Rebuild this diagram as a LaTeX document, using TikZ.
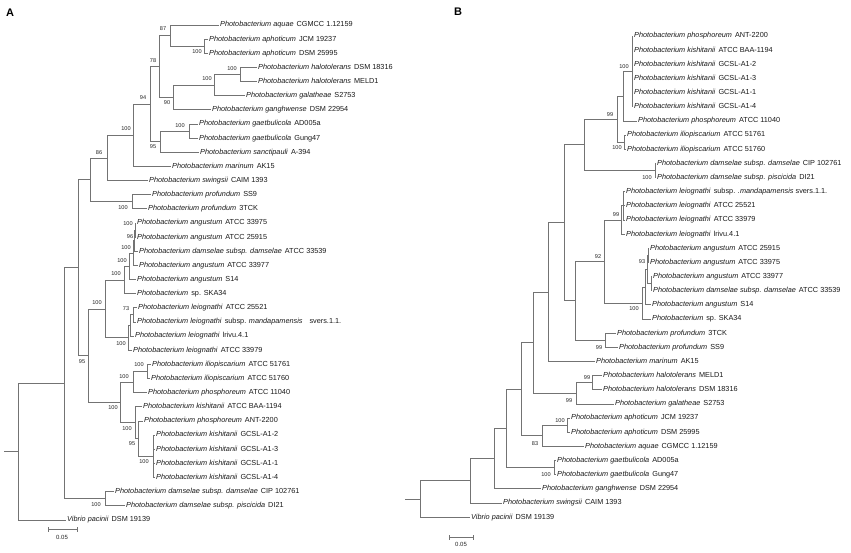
\documentclass[tikz,border=0pt]{standalone}
\usepackage{fontspec}
\setmainfont{Liberation Sans}
\newcommand\tx[2]{\textit{#1}\hspace{3pt}#2}
\begin{document}
\begin{tikzpicture}[x=1pt,y=-1pt,
  br/.style={draw=black!55, line width=0.8pt},
  taxon/.style={anchor=west, inner xsep=1.5pt, inner ysep=0pt, font=\fontsize{7.3}{8}\selectfont, text height=5.3pt, text depth=1.5pt, text=black!90},
  bsv/.style={inner sep=0pt, font=\fontsize{5.6}{6}\selectfont, text=black!85},
  panel/.style={inner sep=0pt, font=\fontsize{11}{12}\selectfont\bfseries},
  scl/.style={inner sep=0pt, font=\fontsize{6}{7}\selectfont, text=black!85}]
\fill[white] (0,0) rectangle (851,552);
\useasboundingbox (0,0) rectangle (851,552);
\node[panel] (pA) at (10,13) {A};
\node[panel] (pB) at (458,12) {B};
% ================= Panel A =================
\coordinate (aR0) at (4,451.56);
\coordinate (aR) at (18,451.56);
\coordinate (aN64) at (64,383.22);
\coordinate (aN78) at (78,267.74);
\coordinate (aN90) at (90,179.83);
\coordinate (aN107) at (107,157.90);
\coordinate (aN133) at (133,135.25);
\coordinate (aN150) at (150,104.10);
\coordinate (aN159) at (159,66.54);
\coordinate (aN170) at (170,35.61);
\coordinate (aAph) at (204,46.21);
\coordinate (aN173) at (173,97.47);
\coordinate (aN214) at (214,85.10);
\coordinate (aHalo) at (240,74.49);
\coordinate (aN160) at (160,141.66);
\coordinate (aGaet) at (189,131.05);
\coordinate (aProf) at (132,201.75);
\coordinate (aN88) at (88,355.64);
\coordinate (aN105) at (105,308.91);
\coordinate (aN124) at (124,279.96);
\coordinate (aN130) at (129.5,266.27);
\coordinate (aN133b) at (133,253.01);
\coordinate (aN96) at (134,240.64);
\coordinate (aN100t) at (135,230.03);
\coordinate (aLei100) at (128,337.85);
\coordinate (aLeim) at (130.5,325.48);
\coordinate (aLei73) at (133,314.87);
\coordinate (aN120) at (120,402.37);
\coordinate (aN133c) at (133,382.04);
\coordinate (aIlio) at (147,371.43);
\coordinate (aKis) at (135,422.69);
\coordinate (aN95k) at (138,438.60);
\coordinate (aGCSL) at (153,456.27);
\coordinate (aDam) at (105,498.69);
\node[taxon] (aL1) at (218.5,25.00) {\tx{Photobacterium aquae}{CGMCC 1.12159}};
\node[taxon] (aL2) at (207.5,39.14) {\tx{Photobacterium aphoticum}{JCM 19237}};
\node[taxon] (aL3) at (207.5,53.28) {\tx{Photobacterium aphoticum}{DSM 25995}};
\node[taxon] (aL4) at (256.5,67.42) {\tx{Photobacterium halotolerans}{DSM 18316}};
\node[taxon] (aL5) at (256.5,81.56) {\tx{Photobacterium halotolerans}{MELD1}};
\node[taxon] (aL6) at (244.5,95.70) {\tx{Photobacterium galatheae}{S2753}};
\node[taxon] (aL7) at (210.5,109.84) {\tx{Photobacterium ganghwense}{DSM 22954}};
\node[taxon] (aL8) at (197.5,123.98) {\tx{Photobacterium gaetbulicola}{AD005a}};
\node[taxon] (aL9) at (197.5,138.12) {\tx{Photobacterium gaetbulicola}{Gung47}};
\node[taxon] (aL10) at (198.5,152.26) {\tx{Photobacterium sanctipauli}{A-394}};
\node[taxon] (aL11) at (170.5,166.40) {\tx{Photobacterium marinum}{AK15}};
\node[taxon] (aL12) at (147.5,180.54) {\tx{Photobacterium swingsii}{CAIM 1393}};
\node[taxon] (aL13) at (150.5,194.68) {\tx{Photobacterium profundum}{SS9}};
\node[taxon] (aL14) at (146.5,208.82) {\tx{Photobacterium profundum}{3TCK}};
\node[taxon] (aL15) at (135.5,222.96) {\tx{Photobacterium angustum}{ATCC 33975}};
\node[taxon] (aL16) at (135.5,237.10) {\tx{Photobacterium angustum}{ATCC 25915}};
\node[taxon] (aL17) at (137.5,251.24) {\tx{Photobacterium damselae subsp. damselae}{ATCC 33539}};
\node[taxon] (aL18) at (137.5,265.38) {\tx{Photobacterium angustum}{ATCC 33977}};
\node[taxon] (aL19) at (135.5,279.52) {\tx{Photobacterium angustum}{S14}};
\node[taxon] (aL20) at (135.5,293.66) {\tx{Photobacterium}{sp. SKA34}};
\node[taxon] (aL21) at (136.5,307.80) {\tx{Photobacterium leiognathi}{ATCC 25521}};
\node[taxon] (aL22) at (135.5,321.94) {\tx{Photobacterium leiognathi}{subsp. \textit{mandapamensis}\hspace{7pt}svers.1.1.}};
\node[taxon] (aL23) at (133.5,336.08) {\tx{Photobacterium leiognathi}{lrivu.4.1}};
\node[taxon] (aL24) at (131.5,350.22) {\tx{Photobacterium leiognathi}{ATCC 33979}};
\node[taxon] (aL25) at (150.5,364.36) {\tx{Photobacterium iliopiscarium}{ATCC 51761}};
\node[taxon] (aL26) at (149.5,378.50) {\tx{Photobacterium iliopiscarium}{ATCC 51760}};
\node[taxon] (aL27) at (146.5,392.64) {\tx{Photobacterium phosphoreum}{ATCC 11040}};
\node[taxon] (aL28) at (141.5,406.78) {\tx{Photobacterium kishitanii}{ATCC BAA-1194}};
\node[taxon] (aL29) at (142.5,420.92) {\tx{Photobacterium phosphoreum}{ANT-2200}};
\node[taxon] (aL30) at (154.5,435.06) {\tx{Photobacterium kishitanii}{GCSL-A1-2}};
\node[taxon] (aL31) at (154.5,449.20) {\tx{Photobacterium kishitanii}{GCSL-A1-3}};
\node[taxon] (aL32) at (154.5,463.34) {\tx{Photobacterium kishitanii}{GCSL-A1-1}};
\node[taxon] (aL33) at (154.5,477.48) {\tx{Photobacterium kishitanii}{GCSL-A1-4}};
\node[taxon] (aL34) at (113.5,491.62) {\tx{Photobacterium damselae subsp. damselae}{CIP 102761}};
\node[taxon] (aL35) at (124.5,505.76) {\tx{Photobacterium damselae subsp. piscicida}{DI21}};
\node[taxon] (aL36) at (65.5,519.90) {\tx{Vibrio pacinii}{DSM 19139}};
\draw[br] (aR0) -- (aR);
\draw[br] (aR) |- (aN64); \draw[br] (aR) |- (aL36.west);
\draw[br] (aN64) |- (aN78); \draw[br] (aN64) |- (aDam);
\draw[br] (aN78) |- (aN90); \draw[br] (aN78) |- (aN88);
\draw[br] (aN90) |- (aN107); \draw[br] (aN90) |- (aProf);
\draw[br] (aN107) |- (aN133); \draw[br] (aN107) |- (aL12.west);
\draw[br] (aN133) |- (aN150); \draw[br] (aN133) |- (aL11.west);
\draw[br] (aN150) |- (aN159); \draw[br] (aN150) |- (aN160);
\draw[br] (aN159) |- (aN170); \draw[br] (aN159) |- (aN173);
\draw[br] (aN170) |- (aL1.west); \draw[br] (aN170) |- (aAph);
\draw[br] (aAph) |- (aL2.west); \draw[br] (aAph) |- (aL3.west);
\draw[br] (aN173) |- (aN214); \draw[br] (aN173) |- (aL7.west);
\draw[br] (aN214) |- (aHalo); \draw[br] (aN214) |- (aL6.west);
\draw[br] (aHalo) |- (aL4.west); \draw[br] (aHalo) |- (aL5.west);
\draw[br] (aN160) |- (aGaet); \draw[br] (aN160) |- (aL10.west);
\draw[br] (aGaet) |- (aL8.west); \draw[br] (aGaet) |- (aL9.west);
\draw[br] (aProf) |- (aL13.west); \draw[br] (aProf) |- (aL14.west);
\draw[br] (aN88) |- (aN105); \draw[br] (aN88) |- (aN120);
\draw[br] (aN105) |- (aN124); \draw[br] (aN105) |- (aLei100);
\draw[br] (aN124) |- (aN130); \draw[br] (aN124) |- (aL20.west);
\draw[br] (aN130) |- (aN133b); \draw[br] (aN130) |- (aL19.west);
\draw[br] (aN133b) |- (aN96); \draw[br] (aN133b) |- (aL18.west);
\draw[br] (aN96) |- (aN100t); \draw[br] (aN96) |- (aL17.west);
\draw[br] (aN100t) |- (aL15.west); \draw[br] (aN100t) |- (aL16.west);
\draw[br] (aLei100) |- (aLeim); \draw[br] (aLei100) |- (aL24.west);
\draw[br] (aLeim) |- (aLei73); \draw[br] (aLeim) |- (aL23.west);
\draw[br] (aLei73) |- (aL21.west); \draw[br] (aLei73) |- (aL22.west);
\draw[br] (aN120) |- (aN133c); \draw[br] (aN120) |- (aKis);
\draw[br] (aN133c) |- (aIlio); \draw[br] (aN133c) |- (aL27.west);
\draw[br] (aIlio) |- (aL25.west); \draw[br] (aIlio) |- (aL26.west);
\draw[br] (aKis) |- (aL28.west); \draw[br] (aKis) |- (aN95k);
\draw[br] (aN95k) |- (aL29.west); \draw[br] (aN95k) |- (aGCSL);
\draw[br] (aGCSL) |- (aL30.west); \draw[br] (aGCSL) |- (aL31.west);
\draw[br] (aGCSL) |- (aL32.west); \draw[br] (aGCSL) |- (aL33.west);
\draw[br] (aDam) |- (aL34.west); \draw[br] (aDam) |- (aL35.west);
% bootstrap A
\node[bsv] (ab1) at (163,29) {87};
\node[bsv] (ab2) at (197,52) {100};
\node[bsv] (ab3) at (153,61) {78};
\node[bsv] (ab4) at (232,69) {100};
\node[bsv] (ab5) at (207,79) {100};
\node[bsv] (ab6) at (167,103) {90};
\node[bsv] (ab7) at (143,98) {94};
\node[bsv] (ab8) at (180,126) {100};
\node[bsv] (ab9) at (126,129) {100};
\node[bsv] (ab10) at (153,147) {95};
\node[bsv] (ab11) at (99,153) {86};
\node[bsv] (ab12) at (123,208) {100};
\node[bsv] (ab13) at (128,224) {100};
\node[bsv] (ab14) at (130,237) {96};
\node[bsv] (ab15) at (126,248) {100};
\node[bsv] (ab16) at (122,261) {100};
\node[bsv] (ab17) at (116,274) {100};
\node[bsv] (ab18) at (97,303) {100};
\node[bsv] (ab19) at (126,309) {73};
\node[bsv] (ab20) at (121,344) {100};
\node[bsv] (ab21) at (82,362) {95};
\node[bsv] (ab22) at (139,365) {100};
\node[bsv] (ab23) at (124,377) {100};
\node[bsv] (ab24) at (113,408) {100};
\node[bsv] (ab25) at (127,429) {100};
\node[bsv] (ab26) at (132,444) {95};
\node[bsv] (ab27) at (144,462) {100};
\node[bsv] (ab28) at (96,505) {100};
% scale A
\coordinate (asc1) at (48,529);
\coordinate (asc2) at (77,529);
\draw[br] (asc1) -- (asc2);
\draw[br] ([yshift=-2.5pt]asc1) -- ([yshift=2.5pt]asc1);
\draw[br] ([yshift=-2.5pt]asc2) -- ([yshift=2.5pt]asc2);
\node[scl] (ascl) at (62,537) {0.05};
% ================= Panel B =================
\coordinate (bR0) at (405,498.94);
\coordinate (bR) at (420,498.94);
\coordinate (bP470) at (470,480.78);
\coordinate (bP494) at (494,458.61);
\coordinate (bP506) at (506,428.41);
\coordinate (bGaet) at (554,467.58);
\coordinate (bP521) at (521,389.23);
\coordinate (bN83) at (542,435.74);
\coordinate (bAph) at (567,425.13);
\coordinate (bP533) at (533,342.72);
\coordinate (bH2) at (576,393.29);
\coordinate (bH1) at (592,382.68);
\coordinate (bP548) at (548,292.14);
\coordinate (bP564) at (564,222.83);
\coordinate (bP575) at (575,300.87);
\coordinate (bProf) at (605,340.23);
\coordinate (bN92) at (604,261.52);
\coordinate (bL99) at (621,219.95);
\coordinate (bLeiIn) at (623,205.80);
\coordinate (bA100) at (642,303.08);
\coordinate (bAX) at (645,287.16);
\coordinate (bA93) at (647,269.48);
\coordinate (bA1) at (648,255.33);
\coordinate (bA2) at (651,283.63);
\coordinate (bP584) at (584,144.78);
\coordinate (bDam) at (655,170.43);
\coordinate (bP617) at (617,119.13);
\coordinate (bIl) at (624,142.13);
\coordinate (bP623) at (623,96.14);
\coordinate (bPG) at (632,71.38);
\node[taxon] (bL1) at (632.5,36.00) {\tx{Photobacterium phosphoreum}{ANT-2200}};
\node[taxon] (bL2) at (632.5,50.15) {\tx{Photobacterium kishitanii}{ATCC BAA-1194}};
\node[taxon] (bL3) at (632.5,64.30) {\tx{Photobacterium kishitanii}{GCSL-A1-2}};
\node[taxon] (bL4) at (632.5,78.45) {\tx{Photobacterium kishitanii}{GCSL-A1-3}};
\node[taxon] (bL5) at (632.5,92.60) {\tx{Photobacterium kishitanii}{GCSL-A1-1}};
\node[taxon] (bL6) at (632.5,106.75) {\tx{Photobacterium kishitanii}{GCSL-A1-4}};
\node[taxon] (bL7) at (636.5,120.90) {\tx{Photobacterium phosphoreum}{ATCC 11040}};
\node[taxon] (bL8) at (625.5,135.05) {\tx{Photobacterium iliopiscarium}{ATCC 51761}};
\node[taxon] (bL9) at (625.5,149.20) {\tx{Photobacterium iliopiscarium}{ATCC 51760}};
\node[taxon] (bL10) at (655.5,163.35) {\tx{Photobacterium damselae subsp. damselae}{CIP 102761}};
\node[taxon] (bL11) at (655.5,177.50) {\tx{Photobacterium damselae subsp. piscicida}{DI21}};
\node[taxon] (bL12) at (624.5,191.65) {\tx{Photobacterium leiognathi}{subsp. \textit{.mandapamensis} svers.1.1.}};
\node[taxon] (bL13) at (624.5,205.80) {\tx{Photobacterium leiognathi}{ATCC 25521}};
\node[taxon] (bL14) at (624.5,219.95) {\tx{Photobacterium leiognathi}{ATCC 33979}};
\node[taxon] (bL15) at (624.5,234.10) {\tx{Photobacterium leiognathi}{lrivu.4.1}};
\node[taxon] (bL16) at (648.5,248.25) {\tx{Photobacterium angustum}{ATCC 25915}};
\node[taxon] (bL17) at (648.5,262.40) {\tx{Photobacterium angustum}{ATCC 33975}};
\node[taxon] (bL18) at (651.5,276.55) {\tx{Photobacterium angustum}{ATCC 33977}};
\node[taxon] (bL19) at (651.5,290.70) {\tx{Photobacterium damselae subsp. damselae}{ATCC 33539}};
\node[taxon] (bL20) at (650.5,304.85) {\tx{Photobacterium angustum}{S14}};
\node[taxon] (bL21) at (650.5,319.00) {\tx{Photobacterium}{sp. SKA34}};
\node[taxon] (bL22) at (615.5,333.15) {\tx{Photobacterium profundum}{3TCK}};
\node[taxon] (bL23) at (617.5,347.30) {\tx{Photobacterium profundum}{SS9}};
\node[taxon] (bL24) at (594.5,361.45) {\tx{Photobacterium marinum}{AK15}};
\node[taxon] (bL25) at (601.5,375.60) {\tx{Photobacterium halotolerans}{MELD1}};
\node[taxon] (bL26) at (601.5,389.75) {\tx{Photobacterium halotolerans}{DSM 18316}};
\node[taxon] (bL27) at (613.5,403.90) {\tx{Photobacterium galatheae}{S2753}};
\node[taxon] (bL28) at (569.5,418.05) {\tx{Photobacterium aphoticum}{JCM 19237}};
\node[taxon] (bL29) at (569.5,432.20) {\tx{Photobacterium aphoticum}{DSM 25995}};
\node[taxon] (bL30) at (583.5,446.35) {\tx{Photobacterium aquae}{CGMCC 1.12159}};
\node[taxon] (bL31) at (555.5,460.50) {\tx{Photobacterium gaetbulicola}{AD005a}};
\node[taxon] (bL32) at (555.5,474.65) {\tx{Photobacterium gaetbulicola}{Gung47}};
\node[taxon] (bL33) at (540.5,488.80) {\tx{Photobacterium ganghwense}{DSM 22954}};
\node[taxon] (bL34) at (501.5,502.95) {\tx{Photobacterium swingsii}{CAIM 1393}};
\node[taxon] (bL35) at (469.5,517.10) {\tx{Vibrio pacinii}{DSM 19139}};
\draw[br] (bR0) -- (bR);
\draw[br] (bR) |- (bP470); \draw[br] (bR) |- (bL35.west);
\draw[br] (bP470) |- (bP494); \draw[br] (bP470) |- (bL34.west);
\draw[br] (bP494) |- (bP506); \draw[br] (bP494) |- (bL33.west);
\draw[br] (bP506) |- (bP521); \draw[br] (bP506) |- (bGaet);
\draw[br] (bGaet) |- (bL31.west); \draw[br] (bGaet) |- (bL32.west);
\draw[br] (bP521) |- (bP533); \draw[br] (bP521) |- (bN83);
\draw[br] (bN83) |- (bAph); \draw[br] (bN83) |- (bL30.west);
\draw[br] (bAph) |- (bL28.west); \draw[br] (bAph) |- (bL29.west);
\draw[br] (bP533) |- (bP548); \draw[br] (bP533) |- (bH2);
\draw[br] (bH2) |- (bH1); \draw[br] (bH2) |- (bL27.west);
\draw[br] (bH1) |- (bL25.west); \draw[br] (bH1) |- (bL26.west);
\draw[br] (bP548) |- (bP564); \draw[br] (bP548) |- (bL24.west);
\draw[br] (bP564) |- (bP584); \draw[br] (bP564) |- (bP575);
\draw[br] (bP575) |- (bN92); \draw[br] (bP575) |- (bProf);
\draw[br] (bProf) |- (bL22.west); \draw[br] (bProf) |- (bL23.west);
\draw[br] (bN92) |- (bL99); \draw[br] (bN92) |- (bA100);
\draw[br] (bL99) |- (bLeiIn); \draw[br] (bL99) |- (bL15.west);
\draw[br] (bLeiIn) |- (bL12.west); \draw[br] (bLeiIn) |- (bL13.west); \draw[br] (bLeiIn) |- (bL14.west);
\draw[br] (bA100) |- (bAX); \draw[br] (bA100) |- (bL21.west);
\draw[br] (bAX) |- (bA93); \draw[br] (bAX) |- (bL20.west);
\draw[br] (bA93) |- (bA1); \draw[br] (bA93) |- (bA2);
\draw[br] (bA1) |- (bL16.west); \draw[br] (bA1) |- (bL17.west);
\draw[br] (bA2) |- (bL18.west); \draw[br] (bA2) |- (bL19.west);
\draw[br] (bP584) |- (bP617); \draw[br] (bP584) |- (bDam);
\draw[br] (bDam) |- (bL10.west); \draw[br] (bDam) |- (bL11.west);
\draw[br] (bP617) |- (bP623); \draw[br] (bP617) |- (bIl);
\draw[br] (bIl) |- (bL8.west); \draw[br] (bIl) |- (bL9.west);
\draw[br] (bP623) |- (bPG); \draw[br] (bP623) |- (bL7.west);
\draw[br] (bPG) |- (bL1.west); \draw[br] (bPG) |- (bL2.west); \draw[br] (bPG) |- (bL3.west);
\draw[br] (bPG) |- (bL4.west); \draw[br] (bPG) |- (bL5.west); \draw[br] (bPG) |- (bL6.west);
% bootstrap B
\node[bsv] (bb1) at (624,67) {100};
\node[bsv] (bb2) at (610,115) {99};
\node[bsv] (bb3) at (617,148) {100};
\node[bsv] (bb4) at (647,178) {100};
\node[bsv] (bb5) at (616,215) {99};
\node[bsv] (bb6) at (598,257) {92};
\node[bsv] (bb7) at (642,262) {93};
\node[bsv] (bb8) at (634,309) {100};
\node[bsv] (bb9) at (599,348) {99};
\node[bsv] (bb10) at (587,378) {99};
\node[bsv] (bb11) at (569,401) {99};
\node[bsv] (bb12) at (560,421) {100};
\node[bsv] (bb13) at (535,444) {83};
\node[bsv] (bb14) at (546,475) {100};
% scale B
\coordinate (bsc1) at (449,537);
\coordinate (bsc2) at (473,537);
\draw[br] (bsc1) -- (bsc2);
\draw[br] ([yshift=-2.5pt]bsc1) -- ([yshift=2.5pt]bsc1);
\draw[br] ([yshift=-2.5pt]bsc2) -- ([yshift=2.5pt]bsc2);
\node[scl] (bscl) at (461,544) {0.05};
\end{tikzpicture}
\end{document}
